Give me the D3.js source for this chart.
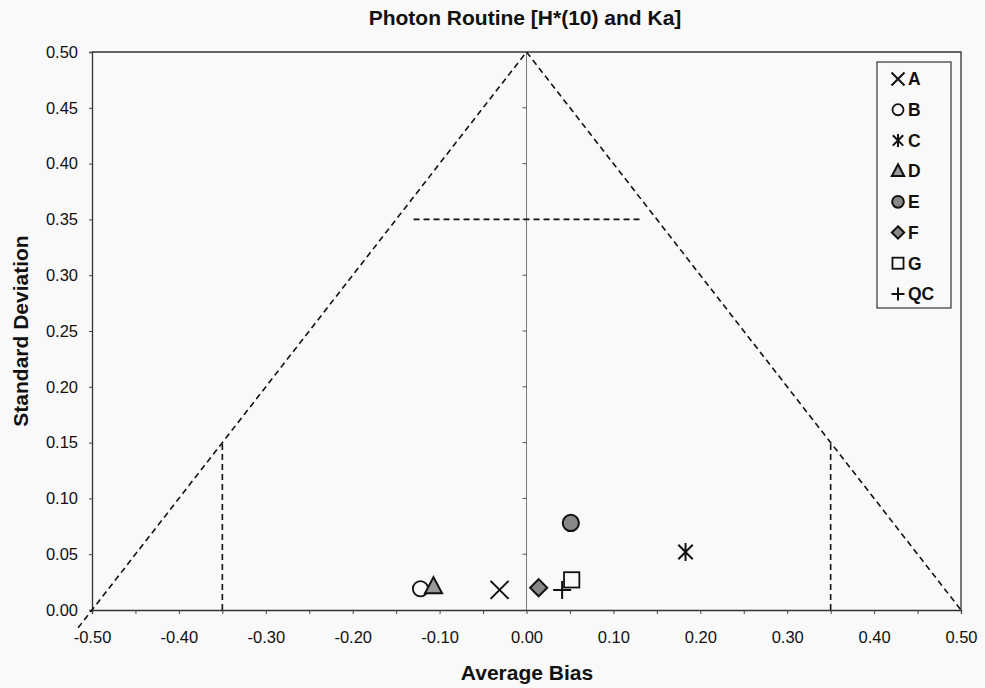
<!DOCTYPE html>
<html>
<head>
<meta charset="utf-8">
<script src="https://cdn.jsdelivr.net/npm/d3@7"></script>
<style>
  body { margin: 0; background: #f9f9f9; }
  text { font-family: Arial, "Liberation Sans", sans-serif; fill: #111; }
</style>
</head>
<body>
<script>
// groups and their (average bias, standard deviation)
var groups = ["A", "B", "C", "D", "E", "F", "G", "QC"];
var bias   = [-0.031, -0.122, 0.183, -0.107, 0.051, 0.014, 0.052, 0.041];
var stdev  = [0.018, 0.019, 0.052, 0.021, 0.078, 0.020, 0.027, 0.018];
var shapes = ["x", "circle", "star", "triangle", "dot", "diamond", "square", "plus"];

// performance limits (trumpet lines)
var limitX = [-0.516, 0, 0.5];
var limitY = [-0.016, 0.5, 0];
var xTicks = [-0.5, -0.4, -0.3, -0.2, -0.1, 0, 0.1, 0.2, 0.3, 0.4, 0.5];
var yTicks = [0, 0.05, 0.1, 0.15, 0.2, 0.25, 0.3, 0.35, 0.4, 0.45, 0.5];

function plot_it() {
    var width = 985, height = 688;
    var left = 92, right = 961, top = 52, bottom = 610;

    var svg = d3.select('body').append('svg').attr('width', width).attr('height', height);

    var x = d3.scaleLinear().domain([-0.5, 0.5]).range([left, right]);
    var y = d3.scaleLinear().domain([0, 0.5]).range([bottom, top]);

    // frame
    svg.append('path')
        .attr('d', 'M' + left + ',' + top + 'H' + right + 'V' + bottom)
        .attr('fill', 'none').attr('stroke', '#333').attr('stroke-width', 1.3);

    // centre line with little ticks
    svg.append('line')
        .attr('x1', x(0)).attr('x2', x(0)).attr('y1', y(0)).attr('y2', y(0.5))
        .attr('stroke', '#777').attr('stroke-width', 1);
    svg.append('g').selectAll('line').data(yTicks.slice(1, -1)).enter().append('line')
        .attr('x1', x(0) - 4).attr('x2', x(0))
        .attr('y1', function (d) { return y(d); }).attr('y2', function (d) { return y(d); })
        .attr('stroke', '#555');

    // axes
    var xAxis = d3.axisBottom(x).tickValues(d3.range(-0.5, 0.501, 0.05)).tickSize(4)
        .tickFormat(function (d) {
            var r = Math.round(d * 100);
            return r % 10 === 0 ? d3.format('.2f')(d).replace('−', '-') : '';
        });
    var gx = svg.append('g').attr('transform', 'translate(0,' + bottom + ')').call(xAxis);
    gx.selectAll('text').attr('font-size', 16.5).attr('dy', '1.55em');

    var yAxis = d3.axisLeft(y).tickValues(yTicks).tickSize(3).tickFormat(d3.format('.2f'));
    var gy = svg.append('g').attr('transform', 'translate(' + left + ',0)').call(yAxis);
    gy.selectAll('text').attr('font-size', 16.5).attr('x', -14);

    svg.selectAll('.domain').attr('stroke', '#333').attr('stroke-width', 1.3);
    svg.selectAll('.tick line').attr('stroke', '#444');

    // dashed limit lines
    var dash = '6,4';
    svg.append('path')
        .datum(d3.zip(limitX, limitY))
        .attr('d', d3.line().x(function (d) { return x(d[0]); }).y(function (d) { return y(d[1]); }))
        .attr('fill', 'none').attr('stroke', '#111').attr('stroke-width', 1.6).attr('stroke-dasharray', dash);
    [[-0.35, 0, -0.35, 0.15], [0.35, 0, 0.35, 0.15], [-0.13, 0.35, 0.13, 0.35]].forEach(function (s) {
        svg.append('line')
            .attr('x1', x(s[0])).attr('y1', y(s[1])).attr('x2', x(s[2])).attr('y2', y(s[3]))
            .attr('stroke', '#111').attr('stroke-width', 1.6).attr('stroke-dasharray', dash);
    });

    // marker drawing
    function marker(g, shape, r) {
        var k = '#111';
        if (shape === 'x') {
            g.append('path').attr('d', 'M' + (-r) + ',' + (-r) + 'L' + r + ',' + r + 'M' + (-r) + ',' + r + 'L' + r + ',' + (-r))
                .attr('stroke', k).attr('stroke-width', 2).attr('fill', 'none');
        } else if (shape === 'plus') {
            g.append('path').attr('d', 'M' + (-r) + ',0H' + r + 'M0,' + (-r) + 'V' + r)
                .attr('stroke', k).attr('stroke-width', 2).attr('fill', 'none');
        } else if (shape === 'star') {
            var a = r * 0.8;
            g.append('path').attr('d', 'M' + (-a) + ',' + (-a) + 'L' + a + ',' + a + 'M' + (-a) + ',' + a + 'L' + a + ',' + (-a) + 'M0,' + (-r) + 'V' + r)
                .attr('stroke', k).attr('stroke-width', 2).attr('fill', 'none');
        } else if (shape === 'circle') {
            g.append('circle').attr('r', r * 0.85).attr('fill', 'none').attr('stroke', k).attr('stroke-width', 1.8);
        } else if (shape === 'dot') {
            g.append('circle').attr('r', r * 0.9).attr('fill', '#888').attr('stroke', k).attr('stroke-width', 2);
        } else if (shape === 'square') {
            g.append('rect').attr('x', -r * 0.85).attr('y', -r * 0.85).attr('width', r * 1.7).attr('height', r * 1.7)
                .attr('fill', 'none').attr('stroke', k).attr('stroke-width', 1.8);
        } else if (shape === 'triangle') {
            g.append('path').attr('d', 'M0,' + (-r * 1.05) + 'L' + (r * 0.95) + ',' + (r * 0.75) + 'L' + (-r * 0.95) + ',' + (r * 0.75) + 'Z')
                .attr('fill', '#999').attr('stroke', k).attr('stroke-width', 2);
        } else if (shape === 'diamond') {
            g.append('path').attr('d', 'M0,' + (-r * 0.95) + 'L' + (r * 0.95) + ',0L0,' + (r * 0.95) + 'L' + (-r * 0.95) + ',0Z')
                .attr('fill', '#888').attr('stroke', k).attr('stroke-width', 2);
        }
    }

    groups.forEach(function (name, i) {
        var g = svg.append('g').attr('transform', 'translate(' + x(bias[i]) + ',' + y(stdev[i]) + ')');
        marker(g, shapes[i], 9);
    });

    // legend
    var lg = svg.append('g');
    lg.append('rect').attr('x', 877).attr('y', 62).attr('width', 74).attr('height', 246)
        .attr('fill', '#f9f9f9').attr('stroke', '#333').attr('stroke-width', 1.2);
    groups.forEach(function (name, i) {
        var cy = 79 + i * 30.7;
        var g = lg.append('g').attr('transform', 'translate(898,' + cy + ')');
        marker(g, shapes[i], 6.5);
        lg.append('text').attr('x', 908).attr('y', cy).attr('dy', '0.36em')
            .attr('font-size', 17.5).attr('font-weight', 'bold').text(name);
    });

    // titles
    svg.append('text').attr('x', 525).attr('y', 25).attr('text-anchor', 'middle')
        .attr('font-size', 21).attr('font-weight', 'bold').text('Photon Routine [H*(10) and Ka]');
    svg.append('text').attr('x', 527).attr('y', 680).attr('text-anchor', 'middle')
        .attr('font-size', 21).attr('font-weight', 'bold').text('Average Bias');
    svg.append('text').attr('transform', 'translate(28,' + ((top + bottom) / 2) + ') rotate(-90)')
        .attr('text-anchor', 'middle')
        .attr('font-size', 21).attr('font-weight', 'bold').text('Standard Deviation');
}
plot_it();
</script>
</body>
</html>
